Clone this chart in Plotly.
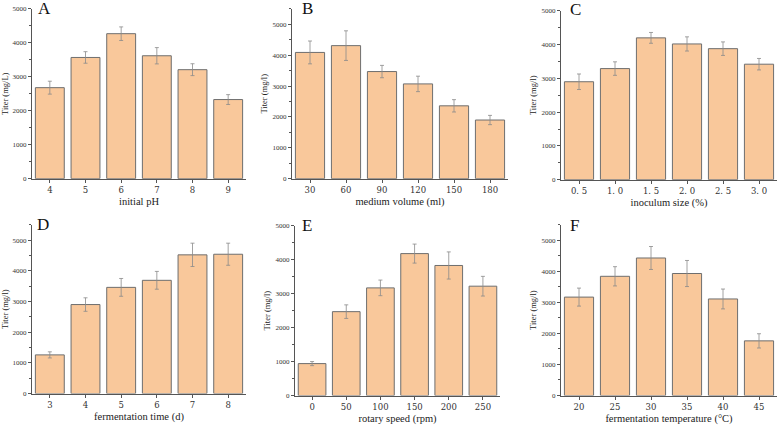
import plotly.graph_objects as go

W, H = 777, 426

ph_labels = ["4", "5", "6", "7", "8", "9"]
ph_vals = [2680, 3570, 4270, 3620, 3210, 2330]
ph_err = [190, 170, 200, 240, 175, 145]

vol_labels = ["30", "60", "90", "120", "150", "180"]
vol_vals = [4090, 4310, 3470, 3070, 2360, 1900]
vol_err = [370, 480, 200, 250, 200, 150]

inoc_labels = ["0. 5", "1. 0", "1. 5", "2. 0", "2. 5", "3. 0"]
inoc_vals = [2900, 3290, 4200, 4020, 3880, 3420]
inoc_err = [230, 200, 160, 210, 200, 170]

time_labels = ["3", "4", "5", "6", "7", "8"]
time_vals = [1260, 2900, 3460, 3690, 4520, 4540]
time_err = [100, 220, 290, 290, 380, 360]

speed_labels = ["0", "50", "100", "150", "200", "250"]
speed_vals = [940, 2470, 3170, 4180, 3830, 3220]
speed_err = [60, 200, 230, 280, 400, 290]

temp_labels = ["20", "25", "30", "35", "40", "45"]
temp_vals = [3170, 3840, 4430, 3930, 3110, 1760]
temp_err = [290, 310, 370, 420, 320, 230]

# letter, labels, values, errors, x title, y title, y max,
# plot x span (px), plot y span (px), letter centre (px)
panels = [
    ("A", ph_labels, ph_vals, ph_err, "initial pH", "Titer (mg/L)", 5000, (32, 246), (5, 178), (44, 4)),
    ("B", vol_labels, vol_vals, vol_err, "medium volume (ml)", "Titer (mg/l)", 5500, (292, 508), (5, 178), (307, 4)),
    ("C", inoc_labels, inoc_vals, inoc_err, "inoculum size (%)", "Titer (mg/l)", 5000, (561, 777), (7, 179), (575, 5)),
    ("D", time_labels, time_vals, time_err, "fermentation time (d)", "Titer (mg/l)", 5500, (32, 246), (225, 397), (43, 224)),
    ("E", speed_labels, speed_vals, speed_err, "rotary speed (rpm)", "Titer (mg/l)", 5000, (295, 500), (226, 399), (307, 225)),
    ("F", temp_labels, temp_vals, temp_err, "fermentation temperature (\u00b0C)", "Titer (mg/l)", 5500, (561, 777), (225, 399), (574, 225)),
]

FONT = "Liberation Serif"
BAR = "#F9C89B"
EDGE = "#6E6E6E"
AX = "#555555"

fig = go.Figure()
layout = dict(
    width=W, height=H, margin=dict(l=0, r=0, t=0, b=0),
    paper_bgcolor="white", plot_bgcolor="white", showlegend=False,
    font=dict(family=FONT, color="#333333"),
)
annotations = []
for i, (letter, labels, vals, errs, xt, yt, ymax, (x0, x1), (ytop, ybot), (lx, ly)) in enumerate(panels):
    n = "" if i == 0 else str(i + 1)
    fig.add_trace(go.Bar(
        x=labels, y=vals, xaxis="x" + n, yaxis="y" + n,
        marker=dict(color=BAR, line=dict(color=EDGE, width=1)),
        error_y=dict(type="data", array=errs, visible=True, color="#8a8a8a", thickness=0.8, width=2),
        width=0.81, cliponaxis=False,
    ))
    xd = [x0 / W, min(x1 / W, 1.0)]
    yd = [1 - ybot / H, 1 - ytop / H]
    layout["xaxis" + n] = dict(
        domain=xd, anchor="y" + n, type="category", range=[-0.5, 5.5],
        showline=True, linecolor=AX, linewidth=1, ticks="outside", ticklen=3, tickcolor=AX,
        tickfont=dict(size=8.5, family="DejaVu Serif", color="#333333"),
        title=dict(text=xt, font=dict(size=10.5, family=FONT, color="#222222"), standoff=3),
        showgrid=False, zeroline=False, fixedrange=True,
    )
    layout["yaxis" + n] = dict(
        domain=yd, anchor="x" + n, range=[0, ymax],
        tickvals=[0, 1000, 2000, 3000, 4000, 5000],
        showline=True, linecolor=AX, linewidth=1, ticks="outside", ticklen=3, tickcolor=AX,
        minor=dict(ticks="outside", ticklen=2, tickcolor=AX, dtick=500),
        tickfont=dict(size=7, family=FONT, color="#333333"),
        title=dict(text=yt, font=dict(size=8.5, family=FONT, color="#222222"), standoff=3),
        showgrid=False, zeroline=False, fixedrange=True,
    )
    annotations.append(dict(
        text=letter, xref="paper", yref="paper",
        x=lx / W, y=1 - (ly + 1) / H, xanchor="center", yanchor="middle",
        showarrow=False, font=dict(size=17, family=FONT, color="#111111"),
    ))
layout["annotations"] = annotations
fig.update_layout(**layout)
fig.write_html(
    "out.html",
    config={"displayModeBar": False},
    post_script="document.body.style.margin='0';document.body.style.overflow='hidden';",
)
